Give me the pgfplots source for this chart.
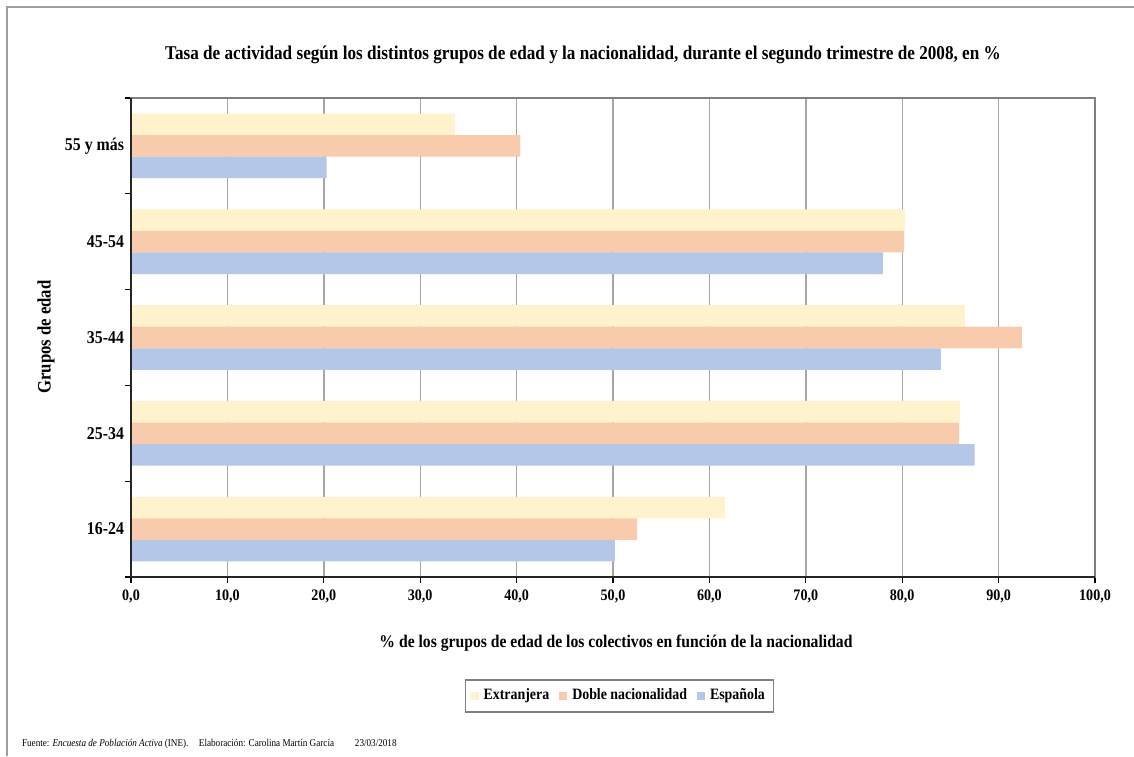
\documentclass[border=0pt]{standalone}
\usepackage{fontspec}
\setmainfont{Liberation Serif}[FakeStretch=0.88]
\usepackage{pgfplots}
\pgfplotsset{compat=1.18}
\definecolor{cExt}{HTML}{FFF2CC}
\definecolor{cDob}{HTML}{F8CBAD}
\definecolor{cEsp}{HTML}{B4C7E7}
\definecolor{gridc}{HTML}{A6A6A6}
\begin{document}
\begin{tikzpicture}
\path[use as bounding box] (0pt,0pt) rectangle (567pt,-378pt);
\draw[line width=1.4pt, color=gray!75] (3.5pt,-378pt) -- (3.5pt,-3.5pt) -- (567pt,-3.5pt);
\node[font=\bfseries\fontsize{9.75}{11}\selectfont] at (291.5pt,-27.5pt)
  {Tasa de actividad según los distintos grupos de edad y la nacionalidad, durante el segundo trimestre de 2008, en \%};
\node[font=\bfseries\fontsize{9.5}{11}\selectfont, rotate=90] at (23pt,-168.5pt) {Grupos de edad};
\node[font=\bfseries\fontsize{8.9}{10}\selectfont] at (308pt,-321.5pt)
  {\% de los grupos de edad de los colectivos en función de la nacionalidad};
\node[font=\fontsize{5.2}{6}\selectfont, anchor=west] at (7.5pt,-372pt)
  {Fuente: \textit{Encuesta de Población Activa} (INE).\quad Elaboración: Carolina Martín García\qquad 23/03/2018};
\begin{axis}[
  at={(65.5pt,-49pt)}, anchor=north west,
  scale only axis, width=482pt, height=239.5pt,
  xmin=0, xmax=100, ymin=-0.5, ymax=4.5,
  xbar, bar width=0.225,
  xtick={0,10,...,100},
  xticklabel={\pgfmathprintnumber[fixed,fixed zerofill,precision=1,use comma]{\tick}},
  /pgf/number format/assume math mode=true,
  ytick={-0.5,0.5,...,4.5},
  yticklabels={},
  extra y ticks={0,1,2,3,4},
  extra y tick labels={16-24,25-34,35-44,45-54,55 y más},
  extra y tick style={major tick length=0pt, yticklabel style={font=\bfseries\fontsize{9}{10}\selectfont}},
  xtick pos=bottom, ytick pos=left,
  tick align=outside, major tick length=3pt,
  tick style={black, line width=0.6pt},
  ticklabel style={font=\bfseries\fontsize{8}{9}\selectfont},
  xmajorgrids, grid style={gridc, line width=0.7pt},
  axis line style={draw=gray, line width=0.9pt},
  after end axis/.code={\draw[black!85, line width=0.8pt] (rel axis cs:0,1) -- (rel axis cs:0,0) -- (rel axis cs:1,0);},
  legend style={at={(0.507,-0.2484)}, anchor=center, draw=gray, line width=0.6pt,
    legend columns=3, font=\bfseries\fontsize{7.9}{9}\selectfont,
    /tikz/every even column/.append style={column sep=3pt},
    /tikz/every odd column/.append style={column sep=0.5pt},
    inner sep=2.5pt},
  legend cell align=left,
  legend image code/.code={\fill[#1, draw=none] (0pt,-2pt) rectangle (4pt,2pt);},
]
\addplot[draw=none, fill=cExt, bar shift=0.225] coordinates {(61.6,0) (86.0,1) (86.5,2) (80.3,3) (33.6,4)};
\addplot[draw=none, fill=cDob, bar shift=0] coordinates {(52.5,0) (85.9,1) (92.4,2) (80.2,3) (40.4,4)};
\addplot[draw=none, fill=cEsp, bar shift=-0.225] coordinates {(50.2,0) (87.5,1) (84.0,2) (78.0,3) (20.3,4)};
\legend{Extranjera,Doble nacionalidad,Española}
\end{axis}
\end{tikzpicture}
\end{document}
